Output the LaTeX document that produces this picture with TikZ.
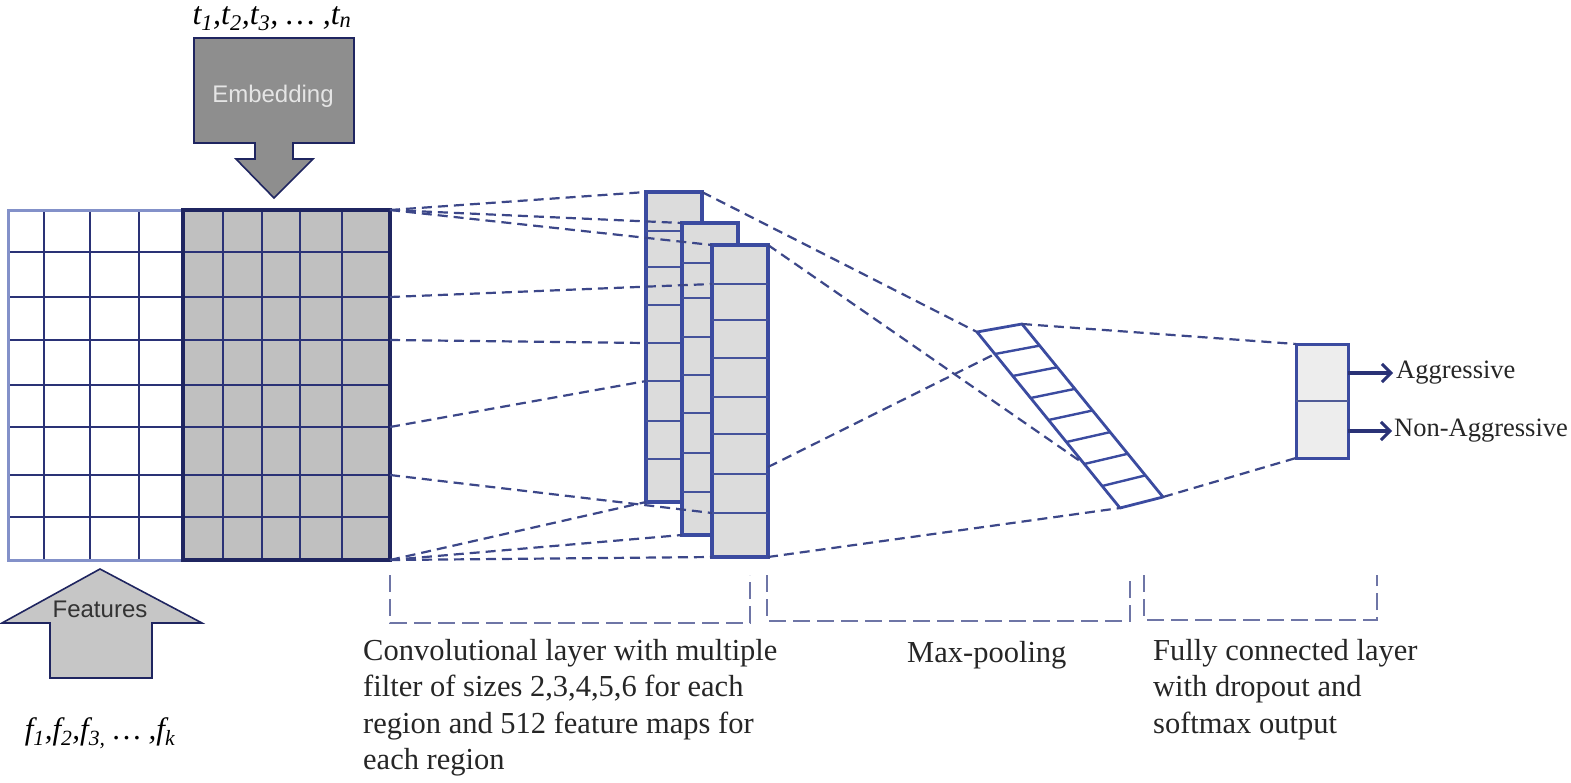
\documentclass[tikz,border=0pt]{standalone}
\usepackage{fontspec}
\setmainfont{Liberation Serif}
\newfontfamily\arialf{Liberation Sans}
\usetikzlibrary{arrows.meta,calc}
\definecolor{navy}{HTML}{2A3276}
\definecolor{navydark}{HTML}{1F2560}
\definecolor{gridlight}{HTML}{8391C9}
\definecolor{convblue}{HTML}{3B4BA0}
\definecolor{dashc}{HTML}{3C4789}
\definecolor{brk}{HTML}{6E75A6}
\definecolor{embg}{HTML}{8E8E8E}
\definecolor{featg}{HTML}{C6C6C6}
\definecolor{cellg}{HTML}{C0C0C0}
\definecolor{convg}{HTML}{DCDCDC}
\definecolor{fcg}{HTML}{EDEDED}
\begin{document}
\begin{tikzpicture}[x=1pt,y=-1pt,
  conn/.style={dashc, line width=2.2pt, dash pattern=on 10pt off 6pt},
  brack/.style={brk, line width=2pt, dash pattern=on 17pt off 7pt},
  gridline/.style={navy, line width=2pt},
  convbox/.style={draw=convblue, fill=convg, line width=3.5pt, inner sep=0pt, outer sep=0pt, minimum width=56pt},
  convdiv/.style={convblue!85!gray, line width=2.6pt},
  fcbox/.style={draw=convblue, fill=fcg, line width=3pt, inner sep=0pt, outer sep=0pt, minimum width=52pt, minimum height=114pt},
  outarrow/.style={navy, line width=3.2pt, -{Straight Barb[length=9pt,width=18pt,line width=3pt]}},
  bigarrow/.style={draw=navydark, line width=1.6pt, line join=miter},
  lbl/.style={font=\fontsize{30.5}{36.5}\selectfont, inner sep=0pt, align=left, text=black!85}
]
\useasboundingbox (0,0) rectangle (1571,782);
\fill[white] (0,0) rectangle (1571,782);

% ---- feature grid (left, white) ----
\fill[white] (8,210) rectangle (183,560);
\foreach \x in {44,90,139} \draw[gridline] (\x,210) -- (\x,560);
\foreach \y in {252,297,340,385,427,475,517} \draw[gridline] (8,\y) -- (183,\y);
\draw[gridlight, line width=3pt] (8,210) rectangle (183,560);

% ---- embedding grid (right, gray) ----
\fill[cellg] (183,210) rectangle (390,560);
\foreach \x in {223,262,300,342} \draw[gridline] (\x,210) -- (\x,560);
\foreach \y in {252,297,340,385,427,475,517} \draw[gridline] (183,\y) -- (390,\y);
\draw[navydark, line width=3.5pt] (183,210) rectangle (390,560);

\coordinate (e1) at (390,210);
\coordinate (e3) at (390,297);
\coordinate (e4) at (390,340);
\coordinate (e6) at (390,427);
\coordinate (e7) at (390,475);
\coordinate (e8) at (390,560);

% ---- embedding arrow ----
\draw[bigarrow, fill=embg] (194,38) -- (354,38) -- (354,143) -- (293,143) -- (293,159) -- (313,159)
  -- (274,198) -- (236,159) -- (255,159) -- (255,143) -- (194,143) -- cycle;
\node[font=\arialf\fontsize{24}{28}\selectfont, text=white!90!black] (embtxt) at (273,96) {Embedding};
\node[font=\fontsize{32}{36}\selectfont\itshape, anchor=base] (tlab) at (272,24)
  {t\textsubscript{1},t\textsubscript{2},t\textsubscript{3}, \dots\ ,t\textsubscript{n}};

% ---- features arrow ----
\draw[bigarrow, fill=featg] (100,569) -- (202,623) -- (152,623) -- (152,678) -- (50,678) -- (50,623) -- (2,623) -- cycle;
\node[font=\arialf\fontsize{24}{28}\selectfont, text=black!80] (feattxt) at (100,609) {Features};
\node[font=\fontsize{31}{34}\selectfont\itshape] (flab) at (100,733)
  {f\textsubscript{1},f\textsubscript{2},f\textsubscript{3,} \dots\ ,f\textsubscript{k}};

% ---- convolution feature maps ----
\node[convbox, minimum height=310pt] (c1) at (674,347) {};
\foreach \y in {231,267,305,343,381,421,459} \draw[convdiv] (646,\y) -- (702,\y);
\node[convbox, minimum height=312pt] (c2) at (710,379) {};
\foreach \y in {263,298,337,375,413,453,492} \draw[convdiv] (682,\y) -- (738,\y);
\node[convbox, minimum height=312pt] (c3) at (740,401) {};
\foreach \y in {284,320,358,397,434,474,513} \draw[convdiv] (712,\y) -- (768,\y);

\coordinate (c1d4) at (646,343);
\coordinate (c1d5) at (646,381);
\coordinate (c3d1) at (712,284);
\coordinate (c3d7) at (712,513);
\coordinate (c3r) at (768,467);

% ---- max pooling ----
\coordinate (m1) at (977,332);
\coordinate (m2) at (1022,324);
\coordinate (m3) at (1163,497);
\coordinate (m4) at (1120,508);
\fill[white] (m1) -- (m2) -- (m3) -- (m4) -- cycle;
\foreach \k in {1,...,7} \draw[convblue, line width=2.4pt] ($(m1)!\k/8!(m4)$) -- ($(m2)!\k/8!(m3)$);
\draw[convblue, line width=2.8pt, line join=round] (m1) -- (m2) -- (m3) -- (m4) -- cycle;
\coordinate (m1a) at ($(m1)!1/8!(m4)$);
\coordinate (m1f) at ($(m1)!6/8!(m4)$);

% ---- fully connected ----
\node[fcbox] (fc) at (1322,401) {};
\draw[convblue!70!gray, line width=2pt] (fc.west) -- (fc.east);
\node[font=\fontsize{26.5}{30}\selectfont, anchor=west, inner sep=0pt, text=black!85] (agg) at (1396,373) {Aggressive};
\node[font=\fontsize{26.5}{30}\selectfont, anchor=west, inner sep=0pt, text=black!85] (nagg) at (1394,431) {Non-Aggressive};
\draw[outarrow] (fc.east |- agg.west) -- ([xshift=-3pt]agg.west);
\draw[outarrow] (fc.east |- nagg.west) -- ([xshift=-2pt]nagg.west);

% ---- dashed connectors ----
\draw[conn] (e1) -- (c1.north west);
\draw[conn] (e1) -- (c2.north west);
\draw[conn] (e1) -- (c3.north west);
\draw[conn] (e3) -- (c3d1);
\draw[conn] (e4) -- (c1d4);
\draw[conn] (e6) -- (c1d5);
\draw[conn] (e7) -- (c3d7);
\draw[conn] (e8) -- (c1.south west);
\draw[conn] (e8) -- (c2.south west);
\draw[conn] (e8) -- (c3.south west);
\draw[conn] (c1.north east) -- (m1);
\draw[conn] (c3.north east) -- (m1f);
\draw[conn] (c3r) -- (m1a);
\draw[conn] (c3.south east) -- (m4);
\draw[conn] (m2) -- (fc.north west);
\draw[conn] (m3) -- (fc.south west);

% ---- brackets ----
\draw[brack] (390,575) -- (390,623) -- (750,623) -- (750,575);
\draw[brack] (767,575) -- (767,621) -- (1130,621) -- (1130,575);
\draw[brack] (1144,575) -- (1144,620) -- (1377,620) -- (1377,575);

% ---- captions ----
\node[lbl, anchor=north west] (convtxt) at (363,639)
  {Convolutional layer with multiple\\filter of sizes 2,3,4,5,6 for each\\region and 512 feature maps for\\each region};
\node[lbl, anchor=base west] (mptxt) at (907,662) {Max-pooling};
\node[lbl, anchor=north west] (fctxt) at (1153,639)
  {Fully connected layer\\with dropout and\\softmax output};
\end{tikzpicture}
\end{document}
